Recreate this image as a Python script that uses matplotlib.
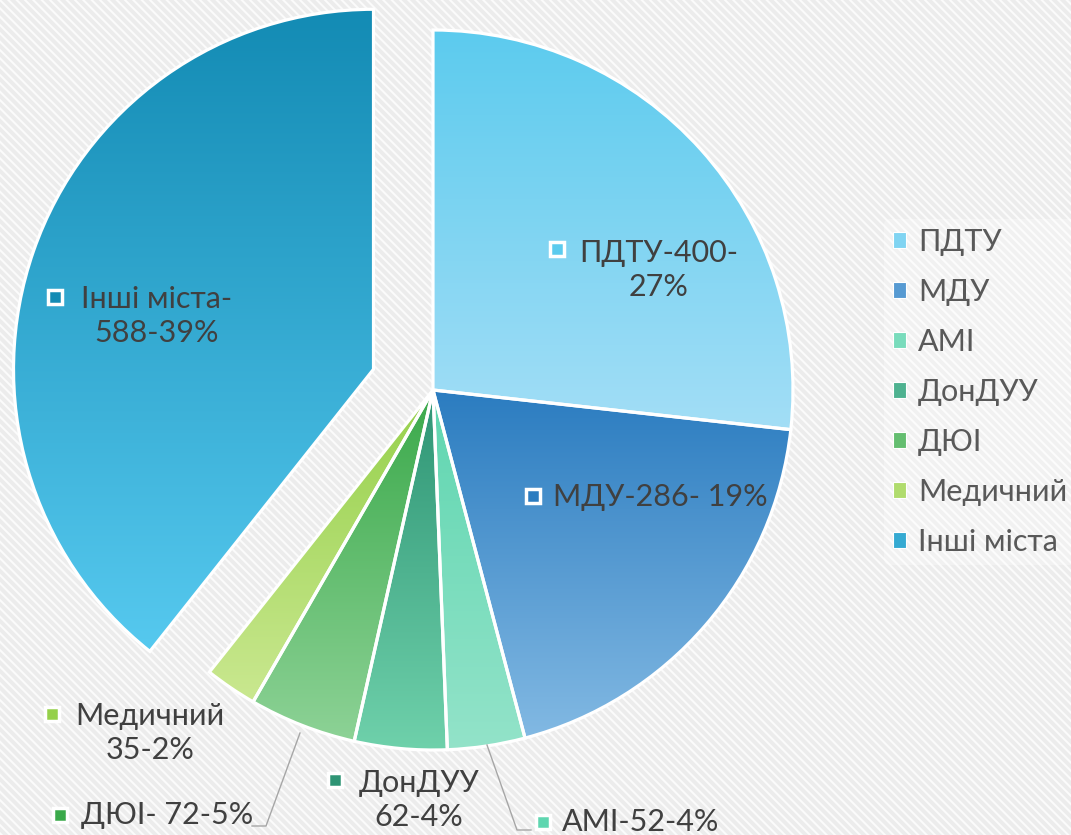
import matplotlib.pyplot as plt
import matplotlib.patches as mpatches
import matplotlib.colors as mcolors
import numpy as np

plt.rcParams['font.family'] = ['Lato', 'DejaVu Sans']
plt.rcParams['hatch.linewidth'] = 1.5

# дані
categories = ['ПДТУ', 'МДУ', 'АМІ', 'ДонДУУ', 'ДЮІ', 'Медичний', 'Інші міста']
values = [400, 286, 52, 62, 72, 35, 588]
labels = ['ПДТУ-400-\n27%', 'МДУ-286- 19%', 'АМІ-52-4%', 'ДонДУУ\n62-4%',
          'ДЮІ- 72-5%', 'Медичний\n35-2%', 'Інші міста-\n588-39%']
top_colors = ['#5ccbee', '#2b7cc0', '#5fd6b0', '#2e9474', '#3aa94a', '#95d04a', '#138bb4']
bottom_colors = ['#a3def6', '#82b9e3', '#93e3c9', '#6fd1ab', '#8dd296', '#cae890', '#56c9ef']

W, H = 1071, 835
cx, cy, R = 433, 390, 360  # центр і радіус круга в пікселях

fig = plt.figure(figsize=(W / 100, H / 100), dpi=100, facecolor='#ececec')
# смугастий фон
bg = mpatches.Rectangle((0, 0), 1, 1, transform=fig.transFigure,
                        facecolor='#ececec', edgecolor='#fbfbfb',
                        hatch='\\\\\\\\', lw=0, zorder=-10)
fig.patches.append(bg)
ax = fig.add_axes([0, 0, 1, 1])
ax.set_facecolor('none')


def px(x, y):
    # пікселі -> координати даних
    return (x - cx) / R, (cy - y) / R


explode = [0, 0, 0, 0, 0, 0, 0.175]
wedges, _ = ax.pie(values, startangle=90, counterclock=False, explode=explode,
                   radius=1, wedgeprops=dict(edgecolor='white', linewidth=2.3))

for w, c1, c2 in zip(wedges, top_colors, bottom_colors):
    ext = w.get_path().get_extents()
    cmap = mcolors.LinearSegmentedColormap.from_list('g', [c2, c1])
    grad = np.linspace(0, 1, 256).reshape(-1, 1)
    im = ax.imshow(grad, cmap=cmap, origin='lower', aspect='auto',
                   extent=[ext.x0, ext.x1, ext.y0, ext.y1], zorder=2)
    im.set_clip_path(w)
    w.set_facecolor('none')
    w.set_zorder(3)

ax.set_xlim(-cx / R, (W - cx) / R)
ax.set_ylim((cy - H) / R, cy / R)
ax.set_aspect('auto')
ax.axis('off')

# підписи даних (положення в пікселях)
label_pos = [(659, 270), (660, 497), (641, 822), (419, 800),
             (167, 815), (150, 733), (157, 316)]
marker_pos = [(557, 249), (533, 496), (543, 822), (335, 780),
              (60, 815), (52, 714), (55, 297)]
txt = '#404040'
for i, lab in enumerate(labels):
    x, y = px(*label_pos[i])
    ax.text(x, y, lab, ha='center', va='center', fontsize=22, color=txt,
            linespacing=1.22, zorder=5)
    mx, my = px(*marker_pos[i])
    ax.plot(mx, my, marker='s', ms=10.5, mfc=top_colors[i], mec='white', mew=2.5, zorder=5)

# лінії-виноски
ax.plot(*zip(px(300, 733), px(266, 826), px(252, 826)), color='#a6a6a6', lw=1, zorder=4)
ax.plot(*zip(px(487, 745), px(517, 830), px(531, 830)), color='#a6a6a6', lw=1, zorder=4)

# легенда
handles = [mpatches.Patch(facecolor=mcolors.to_hex(np.mean([mcolors.to_rgb(a), mcolors.to_rgb(b)], axis=0)),
                          edgecolor='white', lw=0.8) for a, b in zip(top_colors, bottom_colors)]
leg = ax.legend(handles, categories, loc='center left', bbox_to_anchor=(884 / W, 1 - 392 / H),
                frameon=True, fontsize=22, labelcolor='#595959', handlelength=0.42,
                handleheight=0.42, handletextpad=0.4, labelspacing=0.72, borderpad=0.3,
                borderaxespad=0)
leg.get_frame().set_facecolor('white')
leg.get_frame().set_alpha(0.3)
leg.get_frame().set_linewidth(0)

fig.savefig('out.png', dpi=100, facecolor=fig.get_facecolor())
